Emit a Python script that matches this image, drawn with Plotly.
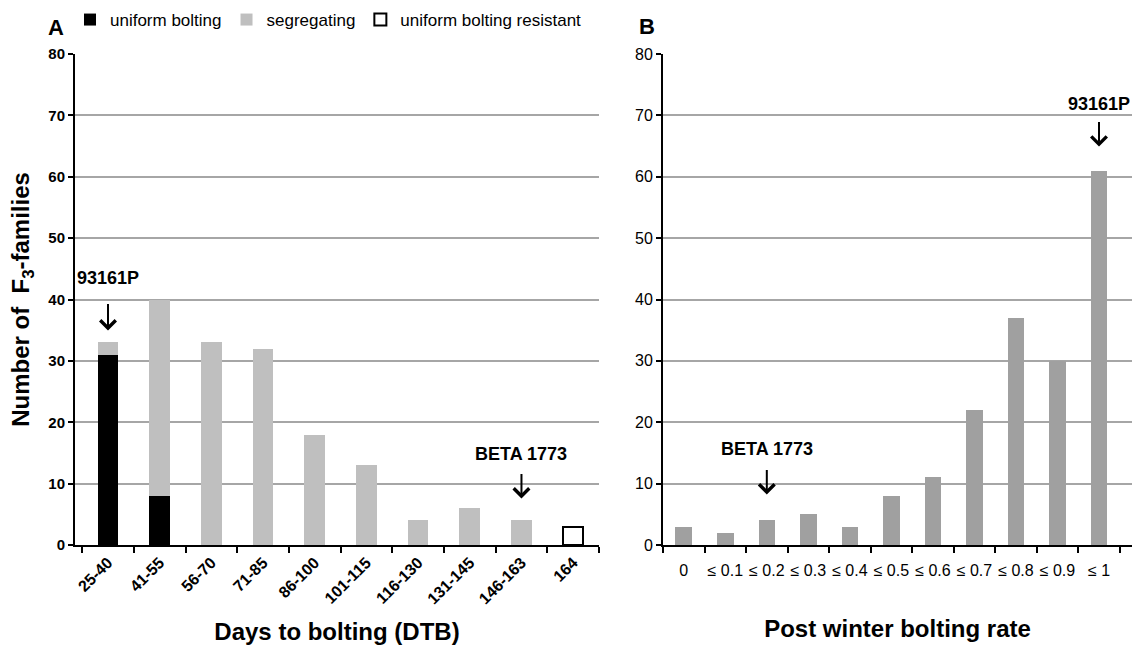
import plotly.graph_objects as go

# ---------------- data ----------------
dtb_categories = ["25-40", "41-55", "56-70", "71-85", "86-100", "101-115",
                  "116-130", "131-145", "146-163", "164"]
uniform_bolting = [31, 8, None, None, None, None, None, None, None, None]
segregating = [2, 32, 33, 32, 18, 13, 4, 6, 4, None]
uniform_resistant = [None, None, None, None, None, None, None, None, None, 3]

rate_categories = ["0", "≤ 0.1", "≤ 0.2", "≤ 0.3", "≤ 0.4", "≤ 0.5",
                   "≤ 0.6", "≤ 0.7", "≤ 0.8", "≤ 0.9", "≤ 1"]
rate_counts = [3, 2, 4, 5, 3, 8, 11, 22, 37, 30, 61]

y_ticks = [0, 10, 20, 30, 40, 50, 60, 70, 80]

FONT = "Liberation Sans, Arial, sans-serif"
W, H = 1146, 645

fig = go.Figure()

fig.add_trace(go.Bar(
    x=dtb_categories, y=uniform_bolting, name="uniform bolting",
    marker=dict(color="#000000", line=dict(width=0)),
    xaxis="x", yaxis="y"))
fig.add_trace(go.Bar(
    x=dtb_categories, y=segregating, name="segregating",
    marker=dict(color="#bfbfbf", line=dict(width=0)),
    xaxis="x", yaxis="y"))
fig.add_trace(go.Bar(
    x=dtb_categories, y=uniform_resistant, name="uniform bolting resistant",
    marker=dict(color="#ffffff", line=dict(color="#000000", width=2)),
    xaxis="x", yaxis="y"))

fig.add_trace(go.Bar(
    x=rate_categories, y=rate_counts, name="post winter",
    marker=dict(color="#a0a0a0", line=dict(width=0)),
    showlegend=False, xaxis="x2", yaxis="y2"))

# plot area geometry (pixels)
A_left, A_right = 75, 599
B_left, B_right = 663, 1132
top_px, bot_px = 54, 545

def px_x(p):
    return p / W

def px_y(p):
    return 1 - p / H

ydom = [px_y(bot_px), px_y(top_px)]

common_y = dict(range=[0, 80], tickvals=y_ticks, showgrid=True,
                gridcolor="#a6a6a6", gridwidth=2, showline=True,
                linecolor="#000000", linewidth=2, ticks="outside",
                ticklen=5, tickwidth=2, tickcolor="#000000", zeroline=False,
                domain=ydom, fixedrange=True, automargin=False)

common_x = dict(showline=True, linecolor="#000000", linewidth=2,
                ticks="outside", ticklen=6, tickwidth=2, tickcolor="#000000",
                tickson="boundaries", showgrid=False, zeroline=False,
                automargin=False)

fig.update_layout(
    width=W, height=H,
    margin=dict(l=0, r=0, t=0, b=0, autoexpand=False),
    paper_bgcolor="white", plot_bgcolor="white",
    barmode="stack", bargap=0.6,
    font=dict(family=FONT, color="#000000"),
    showlegend=True,
    legend=dict(orientation="h", x=px_x(70), y=px_y(2), xanchor="left",
                yanchor="top", font=dict(size=17, family=FONT),
                traceorder="normal", itemwidth=30,
                bgcolor="rgba(0,0,0,0)"),
    xaxis=dict(**common_x, domain=[px_x(A_left), px_x(A_right)],
               anchor="y", tickangle=-45,
               tickfont=dict(size=16, family=FONT, weight="bold"),
               title=dict(text="<b>Days to bolting (DTB)</b>",
                          font=dict(size=24), standoff=20)),
    yaxis=dict(**common_y, anchor="x",
               tickfont=dict(size=15, family=FONT, weight="bold"),
               title=dict(text="<b>Number of  F<sub>3</sub>-families</b>",
                          font=dict(size=24), standoff=12)),
    xaxis2=dict(**common_x, domain=[px_x(B_left), px_x(B_right)],
                anchor="y2", tickangle=0, ticklabelstandoff=10,
                tickfont=dict(size=16, family=FONT),
                title=dict(text="<b>Post winter bolting rate</b>",
                           font=dict(size=24), standoff=42)),
    yaxis2=dict(**common_y, anchor="x2",
                tickfont=dict(size=16, family=FONT)),
)

# panel letters
fig.add_annotation(text="<b>A</b>", xref="paper", yref="paper",
                   x=px_x(56), y=px_y(28), xanchor="center", yanchor="middle",
                   showarrow=False, font=dict(size=22, family=FONT))
fig.add_annotation(text="<b>B</b>", xref="paper", yref="paper",
                   x=px_x(647), y=px_y(26), xanchor="center", yanchor="middle",
                   showarrow=False, font=dict(size=22, family=FONT))

# marker annotations (label above a short downward arrow)
def marker(xref, yref, xcat, yval, label, ay, standoff, startstandoff):
    fig.add_annotation(
        text="<b>" + label + "</b>", xref=xref, yref=yref, x=xcat, y=yval,
        ax=0, ay=ay, showarrow=True, arrowhead=4, arrowsize=1.5,
        arrowwidth=2, arrowcolor="#000000", standoff=standoff,
        startstandoff=startstandoff, font=dict(size=18, family=FONT))

marker("x", "y", "25-40", 33, "93161P", -64, 12, 14)
marker("x", "y", "146-163", 4, "BETA 1773", -66, 22, 8)
marker("x2", "y2", "≤ 1", 61, "93161P", -67, 24, 7)
marker("x2", "y2", "≤ 0.2", 4, "BETA 1773", -71, 26, 9)

fig.write_html("out.html")
